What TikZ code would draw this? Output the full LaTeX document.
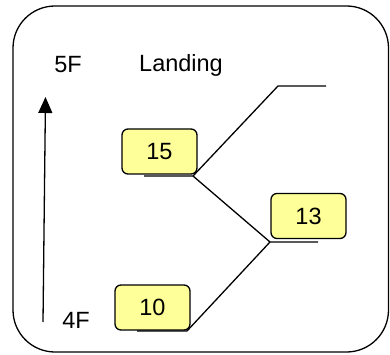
\documentclass[tikz,border=0pt]{standalone}
\usepackage{fontspec}
\setmainfont{Liberation Sans}
\usetikzlibrary{arrows.meta}
\definecolor{boxfill}{HTML}{FFFF99}
\begin{document}
\begin{tikzpicture}[x=1pt,y=-1pt,
  numbox/.style={draw=black,line width=1.3pt,fill=boxfill,rounded corners=6pt,
    minimum width=75pt,minimum height=45pt,inner sep=0pt,
    font=\fontsize{23.5}{28}\selectfont},
  lbl/.style={inner sep=0pt,font=\fontsize{23.5}{28}\selectfont},
  conn/.style={line width=1.3pt,black}]
\useasboundingbox (0,0) rectangle (390,355);
\draw[line width=1.3pt,rounded corners=42pt] (13,6) rectangle (388.5,352);
% labels
\node[lbl] (t5F) at (68,65) {5F};
\node[lbl] (tLanding) at (181,65) {Landing};
\node[lbl] (t4F) at (76,320) {4F};
% arrow
\coordinate (abot) at (43,322);
\coordinate (atop) at (45.5,97);
\draw[line width=1.3pt,-{Triangle[width=14pt,length=16pt]}] (abot) -- (atop);
% boxes
\node[numbox] (b15) at (159.5,151.5) {\raisebox{-2.5pt}{15}};
\node[numbox] (b13) at (308.5,216) {\raisebox{-2pt}{13}};
\node[numbox] (b10) at (152.5,307.5) {\raisebox{-2.5pt}{10}};
% connector coordinates
\coordinate (s15) at (144,176);
\coordinate (j15) at (193,176);
\coordinate (top) at (278,86);
\coordinate (topend) at (326,86);
\coordinate (j13) at (270,242);
\coordinate (s13) at (318,242);
\coordinate (j10) at (187,331);
\coordinate (s10) at (137,331);
\draw[conn] (s15) -- (j15) -- (top) -- (topend);
\draw[conn] (j15) -- (j13) -- (s13);
\draw[conn] (j13) -- (j10) -- (s10);
\end{tikzpicture}
\end{document}
